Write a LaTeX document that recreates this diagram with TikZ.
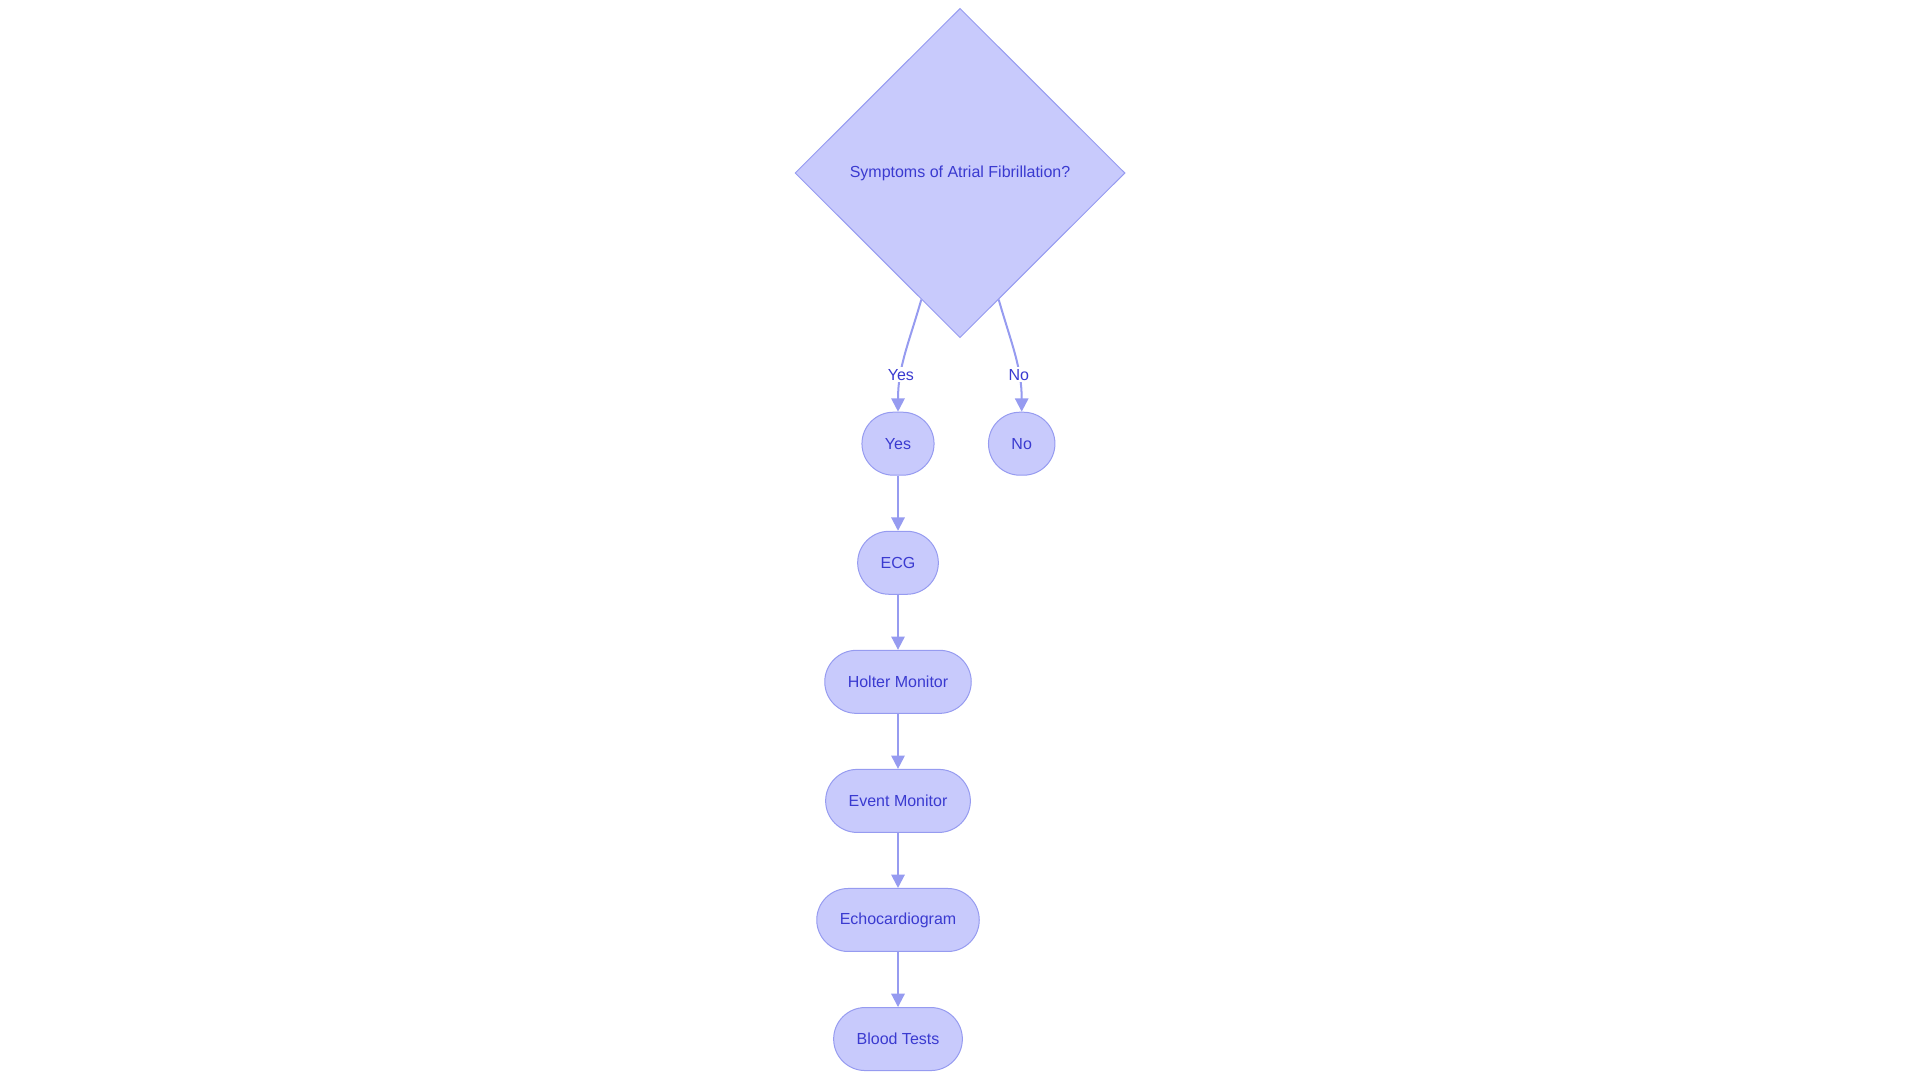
\documentclass[tikz,border=0pt]{standalone}
\usepackage{fontspec}
\setmainfont{Liberation Sans}
\usetikzlibrary{shapes.geometric, arrows.meta}
\definecolor{nfill}{RGB}{200,202,252}
\definecolor{nline}{RGB}{150,155,240}
\definecolor{ntext}{RGB}{58,58,208}
\gdef\Nfont{\fontsize{12}{14}\selectfont}

\begin{document}
\begin{tikzpicture}[x=0.75pt, y=-0.75pt, node distance=89.3pt,
  box/.style={draw=nline, line width=0.75pt, fill=nfill, text=ntext, rounded corners=23.6pt,
    minimum height=47.25pt, inner xsep=17.25pt, font=\Nfont},
  flow/.style={draw=nline, line width=1.5pt, -{Triangle[length=10pt, width=10pt]}},
  elabel/.style={fill=white, text=ntext, inner sep=1.5pt, font=\Nfont}]
\useasboundingbox (0,0) rectangle (1920,1083);
\node[draw=nline, diamond, line width=0.75pt, fill=nfill, text=ntext, inner sep=0pt,
  minimum width=247.5pt, minimum height=247pt, font=\Nfont] (dia) at (960,173) {Symptoms of Atrial Fibrillation?};
\node[box] (yes) at (898,443.7) {Yes};
\node[box] (no) at (1021.7,443.7) {No};
\node[box] (ecg) [below of=yes] {ECG};
\node[box] (holter) [below of=ecg] {Holter Monitor};
\node[box] (event) [below of=holter] {Event Monitor};
\node[box] (echo) [below of=event] {Echocardiogram};
\node[box] (blood) [below of=echo] {Blood Tests};
% branches
\draw[flow] (dia.253) to[out=254, in=90] node[elabel, pos=0.69] {Yes} (yes);
\draw[flow] (dia.287) to[out=286, in=90] node[elabel, pos=0.69] {No} (no);
% tests
\draw[flow] (yes) -- (ecg);
\draw[flow] (ecg) -- (holter);
\draw[flow] (holter) -- (event);
\draw[flow] (event) -- (echo);
\draw[flow] (echo) -- (blood);
\end{tikzpicture}
\end{document}
